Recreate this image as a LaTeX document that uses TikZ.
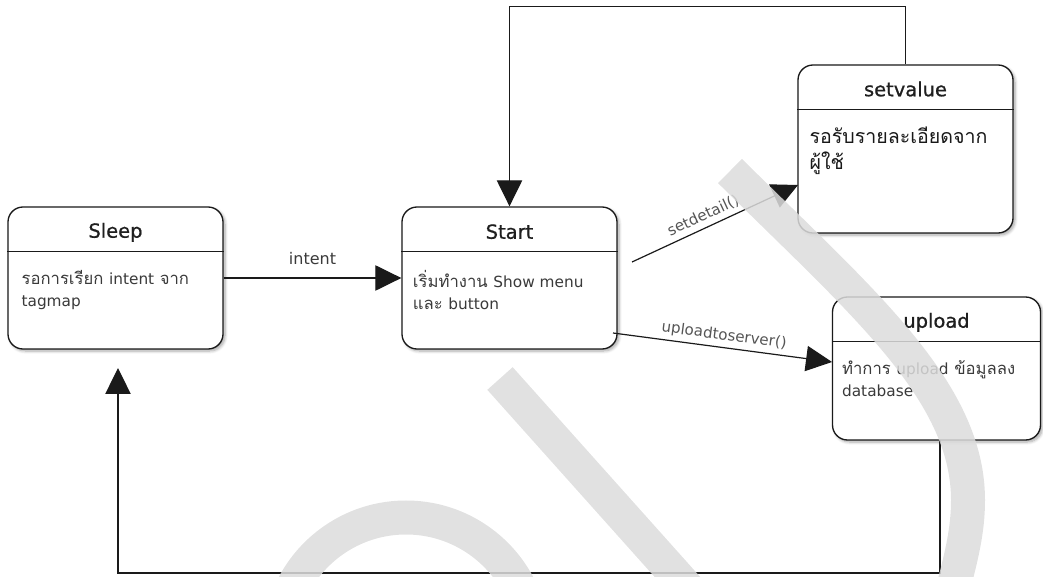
\documentclass[tikz,border=0pt]{standalone}
\usepackage{fontspec}
\setmainfont{Liberation Sans}
\newfontfamily\thaifont[Script=Thai]{Loma}
\newfontfamily\dvs{DejaVu Sans}
\newfontfamily\dvsb[FakeBold=0.8]{DejaVu Sans}
\newcommand{\lat}[1]{{\dvs\fontsize{11.5}{16.5}\selectfont #1}}
\usetikzlibrary{arrows.meta,shadows.blur,calc}
\definecolor{linec}{HTML}{1A1A1A}
\definecolor{bodyc}{HTML}{3A3A3A}
\definecolor{lblc}{HTML}{555555}
\definecolor{wmc}{RGB}{220,220,220}
\tikzset{
  statebox/.style={draw=linec, line width=1pt, fill=white, rounded corners=11.25pt,
    minimum width=161.25pt, inner sep=0pt,
    blur shadow={shadow xshift=1.5pt, shadow yshift=-1.5pt, shadow blur steps=6, shadow opacity=35}},
  hdrline/.style={draw=linec, line width=1pt},
  titletext/.style={font=\dvsb\fontsize{14.6}{18}\selectfont, text=black!88, inner sep=0pt},
  bodytext/.style={font=\thaifont\fontsize{12.5}{16.5}\selectfont, text=bodyc, align=left, anchor=north west, inner sep=0pt},
  bigbody/.style={font=\thaifont\fontsize{14.7}{19}\selectfont, text=black!90, align=left, anchor=north west, inner sep=0pt},
  conn/.style={draw=linec, line width=0.9pt, -{Triangle[length=19.5pt,width=19pt]}},
  lbl/.style={font=\dvs\fontsize{12}{14}\selectfont, text=bodyc, inner sep=1pt},
  glbl/.style={font=\dvs\fontsize{11.3}{13}\selectfont, text=lblc, inner sep=1pt},
  wm/.style={draw=wmc, draw opacity=0.85, line width=25.5pt, line cap=butt}
}
\begin{document}
\begin{tikzpicture}[x=0.75pt,y=-0.75pt]
\useasboundingbox (0,0) rectangle (1043,577);

% boxes
\node[statebox, minimum height=106.5pt] (sleep) at (115.5,278) {};
\node[statebox, minimum height=106.5pt] (start) at (509.5,278) {};
\node[statebox, minimum height=126pt] (setvalue) at (905.5,149) {};
\node[statebox, minimum width=156pt, minimum height=107.25pt] (upload) at (936.5,368.5) {};

% header lines
\foreach \b in {sleep,start,setvalue,upload}{
  \draw[hdrline] ([yshift=-33.75pt]\b.north west) -- ([yshift=-33.75pt]\b.north east);
}

% titles
\node[titletext] (sleepT) at ([yshift=-19.5pt]sleep.north) {Sleep};
\node[titletext] (startT) at ([yshift=-19pt]start.north) {Start};
\node[titletext] (setvalueT) at ([yshift=-18.5pt]setvalue.north) {setvalue};
\node[titletext] (uploadT) at ([yshift=-19.5pt]upload.north) {upload};

% bodies
\node[bodytext] (sleepB) at ([xshift=10.5pt,yshift=-47.5pt]sleep.north west) {รอการเรียก \lat{intent} จาก\\\lat{tagmap}};
\node[bodytext] (startB) at ([xshift=8.5pt,yshift=-47.5pt]start.north west) {เริ่มทำงาน \lat{Show menu}\\และ \lat{button}};
\node[bigbody] (setvalueB) at ([xshift=9pt,yshift=-47pt]setvalue.north west) {รอรับรายละเอียดจาก\\ผู้ใช้};
\node[bodytext] (uploadB) at ([xshift=7.5pt,yshift=-48pt]upload.north west) {ทำการ \lat{upload} ข้อมูลลง\\\lat{database}};

% connector end points
\coordinate (sdS) at (632,262);
\coordinate (sdE) at (798,185);
\coordinate (upS) at (613,333);
\coordinate (upE) at (832,362);
\coordinate (slIn) at (118,368);
\coordinate (upOut) at (940,440);

% connectors
\draw[conn] (sleep.east) -- node[lbl, midway, yshift=14.25pt] (intentL) {intent} (start.west);
\draw[conn] (sdS) -- node[glbl, pos=0.46, sloped, above=2.5pt] (sdL) {setdetail()} (sdE);
\draw[conn] (upS) -- node[glbl, pos=0.5, sloped, above=2pt] (upL) {uploadtoserver()} (upE);
\draw[conn] (setvalue.north) -- ++(0,-58) -| (start.north);
\draw[conn] (upOut) -- ++(0,133) -| (slIn);

% watermark
\begin{scope}
\clip (0,0) rectangle (1043,577);
\draw[wm] (500,378.5) -- (690,591);
\draw[wm] (406,644.5) circle[radius=95.25pt];
\draw[wm] (730,171) .. controls (860,300) and (968,390) .. (968,500)
                    .. controls (968,530) and (962,555) .. (950,600);
\end{scope}
\end{tikzpicture}
\end{document}
